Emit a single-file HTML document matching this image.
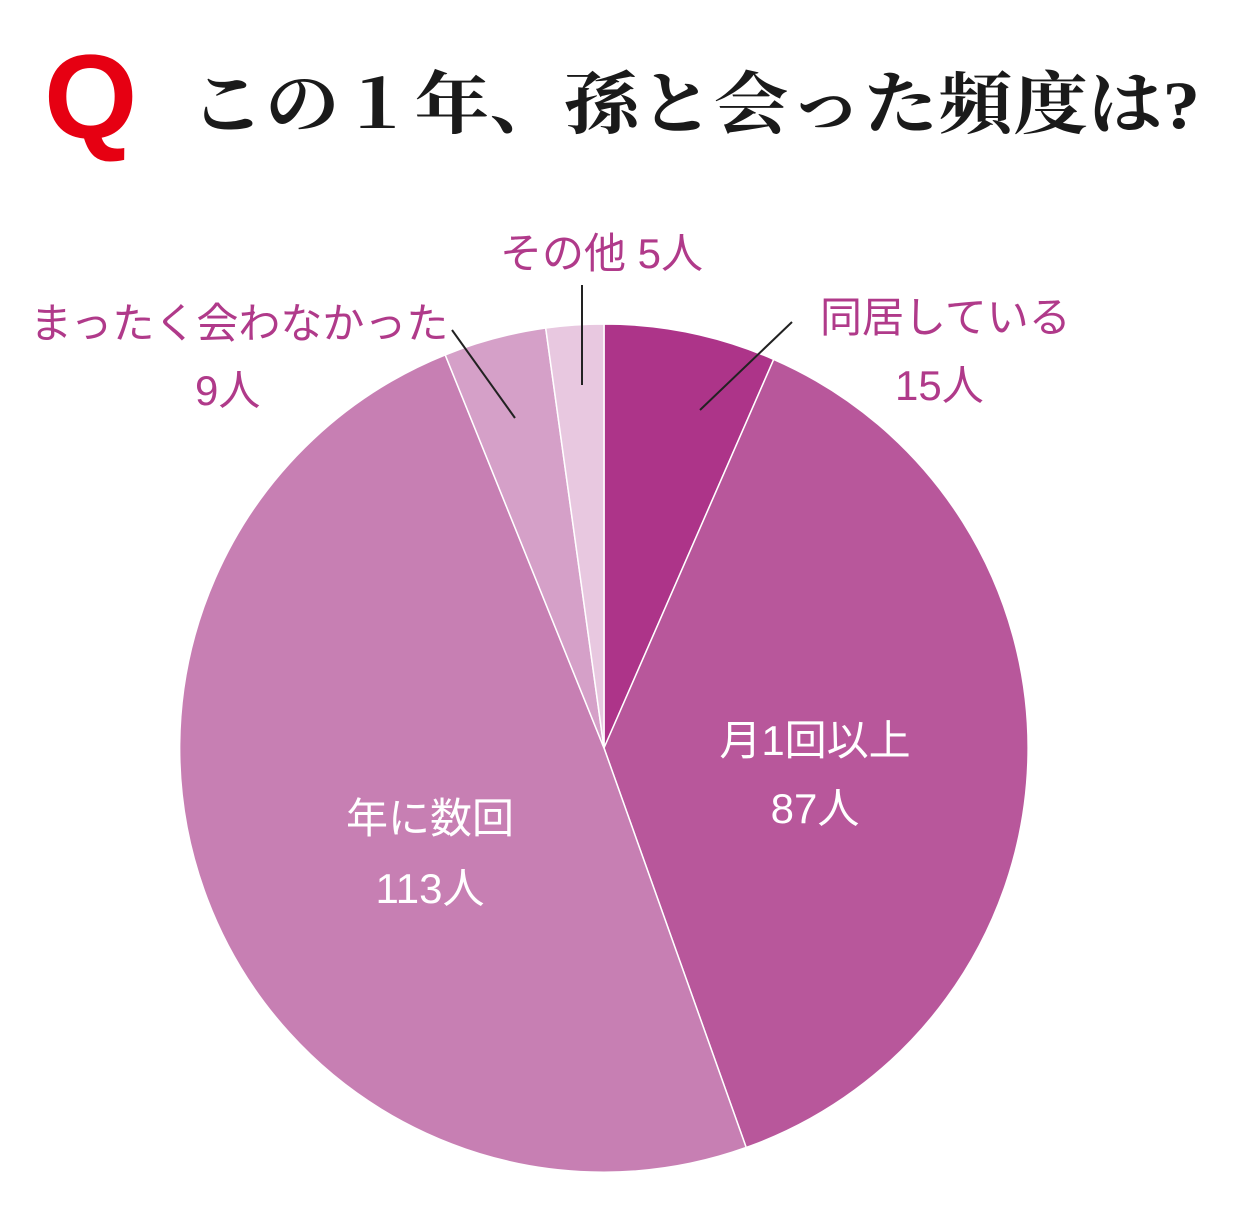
<!DOCTYPE html>
<html><head><meta charset="utf-8"><style>
html,body{margin:0;padding:0;background:#fff;}
</style></head><body>
<svg width="1242" height="1200" viewBox="0 0 1242 1200" xmlns="http://www.w3.org/2000/svg">
<rect width="1242" height="1200" fill="#fff"/>
<text x="44" y="138" font-family="Liberation Sans, sans-serif" font-weight="bold" font-size="120" fill="#e60012">Q</text>
<text x="190" y="128" font-family="'Liberation Serif','Noto Serif CJK SC',serif" font-weight="bold" font-size="68" fill="#1a1a1a" textLength="1010" lengthAdjust="spacingAndGlyphs">この１年、孫と会った頻度は?</text>
<g stroke="#fff" stroke-width="1.5">
<path d="M604,748 L604,324 A424,424 0 0 1 773.7,359.4 Z" fill="#ad3489"/>
<path d="M604,748 L773.7,359.4 A424,424 0 0 1 746.2,1147.5 Z" fill="#b8579b"/>
<path d="M604,748 L746.2,1147.5 A424,424 0 0 1 445.2,354.9 Z" fill="#c77fb3"/>
<path d="M604,748 L445.2,354.9 A424,424 0 0 1 545.7,328 Z" fill="#d5a0c8"/>
<path d="M604,748 L545.7,328 A424,424 0 0 1 604,324 Z" fill="#e8c8e0"/>
</g>
<g stroke="#222" stroke-width="2">
<line x1="700" y1="410" x2="792" y2="322"/>
<line x1="515" y1="418" x2="452" y2="330"/>
<line x1="582" y1="385" x2="582" y2="285"/>
</g>
<g font-family="'Liberation Sans','Noto Sans CJK JP',sans-serif" font-size="42" fill="#b03a8a">
<text x="500" y="268">その他  5人</text>
<text x="820" y="332">同居している</text>
<text x="895" y="400">15人</text>
<text x="30" y="338">まったく会わなかった</text>
<text x="195" y="405">9人</text>
</g>
<g font-family="'Liberation Sans','Noto Sans CJK JP',sans-serif" font-size="42" fill="#fff" text-anchor="middle">
<text x="815" y="755">月1回以上</text>
<text x="815" y="823">87人</text>
<text x="430" y="833">年に数回</text>
<text x="430" y="903">113人</text>
</g>
</svg>
</body></html>
